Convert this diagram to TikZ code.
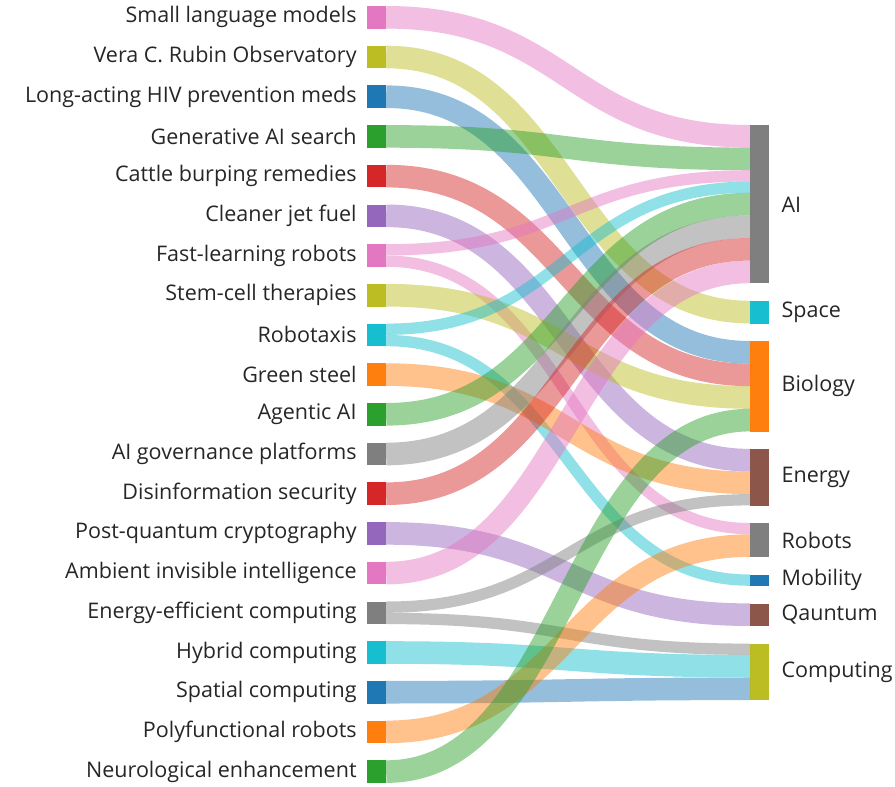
\documentclass[tikz,border=0pt]{standalone}
\usepackage{fontspec}
\setmainfont{Open Sans}
\usetikzlibrary{positioning}

\definecolor{cpink}{HTML}{E377C2}
\definecolor{colive}{HTML}{BCBD22}
\definecolor{cblue}{HTML}{1F77B4}
\definecolor{cgreen}{HTML}{2CA02C}
\definecolor{cred}{HTML}{D62728}
\definecolor{cpurple}{HTML}{9467BD}
\definecolor{corange}{HTML}{FF7F0E}
\definecolor{ccyan}{HTML}{17BECF}
\definecolor{cgray}{HTML}{7F7F7F}
\definecolor{cbrown}{HTML}{8C564B}

% colour, source, source shift, target, offset from target top, width
\newcommand{\flow}[6]{\draw[link, draw=#1, line width=#6pt] ([yshift=#3pt]#2.east) .. controls +(182,0) and +(-182,0) .. ([yshift=-#5pt]#4.north west);}

\begin{document}
\begin{tikzpicture}[x=1pt, y=-1pt,
    src/.style={rectangle, inner sep=0pt, minimum width=19pt, minimum height=22.6pt},
    dst/.style={rectangle, inner sep=0pt, minimum width=19pt, anchor=north west},
    link/.style={draw opacity=.48},
    every label/.style={font=\fontsize{21.5}{24}\selectfont, text=black!85, inner sep=0pt}]
\useasboundingbox (0,0) rectangle (895,787);

% left nodes
\foreach \nm/\col/\txt [count=\i from 0] in {
    slm/cpink/Small language models,
    vera/colive/Vera C. Rubin Observatory,
    hiv/cblue/Long-acting HIV prevention meds,
    gen/cgreen/Generative AI search,
    cattle/cred/Cattle burping remedies,
    jet/cpurple/Cleaner jet fuel,
    fast/cpink/Fast-learning robots,
    stem/colive/Stem-cell therapies,
    taxi/ccyan/Robotaxis,
    steel/corange/Green steel,
    agent/cgreen/Agentic AI,
    gov/cgray/AI governance platforms,
    disinfo/cred/Disinformation security,
    pqc/cpurple/Post-quantum cryptography,
    ambient/cpink/Ambient invisible intelligence,
    eeff/cgray/Energy-efficient computing,
    hybrid/ccyan/Hybrid computing,
    spatial/cblue/Spatial computing,
    poly/corange/Polyfunctional robots,
    neuro/cgreen/Neurological enhancement}
  \node[src, fill=\col, label={[label distance=10pt]left:\txt}] (\nm) at (376.5, {17.3+39.7*\i}) {};

% right nodes
\node[dst, fill=cgray, minimum height=158.2pt, label={[label distance=12pt]right:AI}] (ai) at (750,125) {};
\node[dst, fill=ccyan, minimum height=22.6pt, label={[label distance=12pt]right:Space}] (space) at (750,300.8) {};
\node[dst, fill=corange, minimum height=90.4pt, label={[label distance=12pt]right:Biology}] (bio) at (750,341) {};
\node[dst, fill=cbrown, minimum height=56.5pt, label={[label distance=12pt]right:Energy}] (energy) at (750,448.9) {};
\node[dst, fill=cgray, minimum height=33.9pt, label={[label distance=12pt]right:Robots}] (robots) at (750,523) {};
\node[dst, fill=cblue, minimum height=11.3pt, label={[label distance=12pt]right:Mobility}] (mob) at (750,574.5) {};
\node[dst, fill=cbrown, minimum height=22.6pt, label={[label distance=12pt]right:Qauntum}] (quant) at (750,603.4) {};
\node[dst, fill=colive, minimum height=56.5pt, label={[label distance=12pt]right:Computing}] (comp) at (750,643.6) {};

% links
\flow{cpink}{slm}{0}{ai}{11.3}{22.6}
\flow{colive}{vera}{0}{space}{11.3}{22.6}
\flow{cblue}{hiv}{0}{bio}{11.3}{22.6}
\flow{cgreen}{gen}{0}{ai}{33.9}{22.6}
\flow{cred}{cattle}{0}{bio}{33.9}{22.6}
\flow{cpurple}{jet}{0}{energy}{11.3}{22.6}
\flow{cpink}{fast}{5.65}{ai}{50.85}{11.3}
\flow{cpink}{fast}{-5.65}{robots}{5.65}{11.3}
\flow{colive}{stem}{0}{bio}{56.5}{22.6}
\flow{ccyan}{taxi}{5.65}{ai}{62.15}{11.3}
\flow{ccyan}{taxi}{-5.65}{mob}{5.65}{11.3}
\flow{corange}{steel}{0}{energy}{33.9}{22.6}
\flow{cgreen}{agent}{0}{ai}{79.1}{22.6}
\flow{cgray}{gov}{0}{ai}{101.7}{22.6}
\flow{cred}{disinfo}{0}{ai}{124.3}{22.6}
\flow{cpurple}{pqc}{0}{quant}{11.3}{22.6}
\flow{cpink}{ambient}{0}{ai}{146.9}{22.6}
\flow{cgray}{eeff}{5.65}{energy}{50.85}{11.3}
\flow{cgray}{eeff}{-5.65}{comp}{5.65}{11.3}
\flow{ccyan}{hybrid}{0}{comp}{22.6}{22.6}
\flow{cblue}{spatial}{0}{comp}{45.2}{22.6}
\flow{corange}{poly}{0}{robots}{22.6}{22.6}
\flow{cgreen}{neuro}{0}{bio}{79.1}{22.6}
\end{tikzpicture}
\end{document}
